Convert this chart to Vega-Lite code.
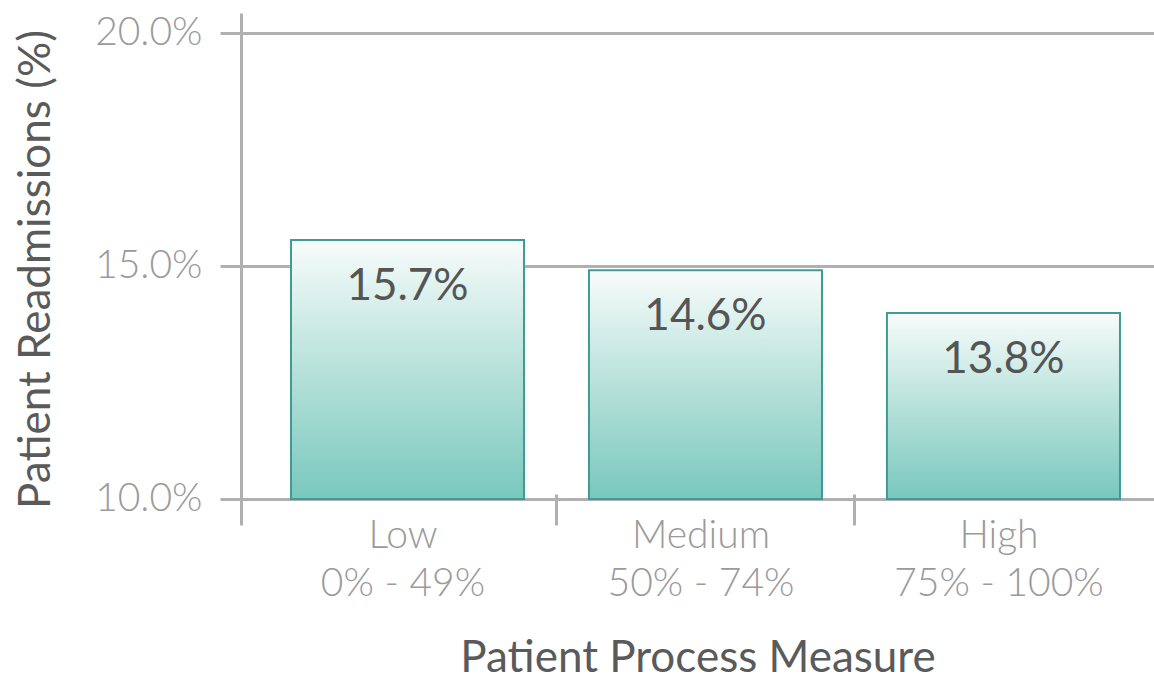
{
  "$schema": "https://vega.github.io/schema/vega-lite/v6.json",
  "autosize": "none",
  "width": 913,
  "height": 512,
  "padding": {"left": 241, "top": 13, "right": 0, "bottom": 160},
  "background": "white",
  "config": {"view": {"stroke": null}, "font": "Lato"},
  "data": {
    "values": [
      {"group": "Low|0% - 49%", "value": 15.56, "label": "15.7%"},
      {"group": "Medium|50% - 74%", "value": 14.91, "label": "14.6%"},
      {"group": "High|75% - 100%", "value": 13.99, "label": "13.8%"}
    ]
  },
  "encoding": {
    "x": {
      "field": "group",
      "type": "nominal",
      "sort": null,
      "scale": {"paddingInner": 0.218, "paddingOuter": 0.141, "align": 0.595},
      "axis": {
        "title": "Patient Process Measure",
        "titleFont": "Lato",
        "titleFontSize": 44,
        "titleFontWeight": "normal",
        "titleColor": "#5a5a5a",
        "titlePadding": 33,
        "labelExpr": "split(datum.label, '|')",
        "labelFont": "Lato",
        "labelFontWeight": 300,
        "labelFontSize": 39,
        "labelColor": "#9a9a9a",
        "labelLineHeight": 48,
        "labelAngle": 0,
        "labelLimit": 500,
        "labelPadding": -9,
        "labelOffset": 144,
        "tickOffset": -149,
        "offset": -31,
        "tickSize": 31,
        "tickColor": "#b0b0b0",
        "tickWidth": 3,
        "tickOpacity": {"condition": {"test": "datum.value === 'Low|0% - 49%'", "value": 0}, "value": 1},
        "domain": false,
        "grid": false
      }
    }
  },
  "layer": [
    {
      "mark": {
        "type": "bar",
        "stroke": "#3f9b94",
        "strokeWidth": 2,
        "fill": {
          "gradient": "linear",
          "x1": 0, "y1": 0, "x2": 0, "y2": 1,
          "stops": [
            {"offset": 0, "color": "#f8fcfb"},
            {"offset": 0.5, "color": "#b7e1da"},
            {"offset": 1, "color": "#79c8bd"}
          ]
        }
      },
      "encoding": {
        "y": {
          "field": "value",
          "type": "quantitative",
          "scale": {"domain": [9.442, 20.429], "zero": false, "nice": false},
          "axis": {
            "title": "Patient Readmissions (%)",
            "titleFont": "Lato",
            "titleFontSize": 44,
            "titleFontWeight": "normal",
            "titleColor": "#5a5a5a",
            "titlePadding": 36,
            "values": [10, 15, 20],
            "labelExpr": "format(datum.value, '.1f') + '%'",
            "labelFont": "Lato",
            "labelFontWeight": 300,
            "labelFontSize": 39,
            "labelColor": "#9a9a9a",
            "labelPadding": 18,
            "tickSize": 21,
            "tickColor": "#b0b0b0",
            "tickWidth": 3,
            "domain": true,
            "domainColor": "#b0b0b0",
            "domainWidth": 3,
            "grid": true,
            "gridColor": "#b0b0b0",
            "gridWidth": 3
          }
        },
        "y2": {"datum": 10}
      }
    },
    {
      "mark": {
        "type": "text",
        "baseline": "top",
        "dy": 25,
        "font": "Lato",
        "fontSize": 44,
        "color": "#555555"
      },
      "encoding": {
        "y": {"field": "value", "type": "quantitative"},
        "text": {"field": "label"}
      }
    }
  ]
}
